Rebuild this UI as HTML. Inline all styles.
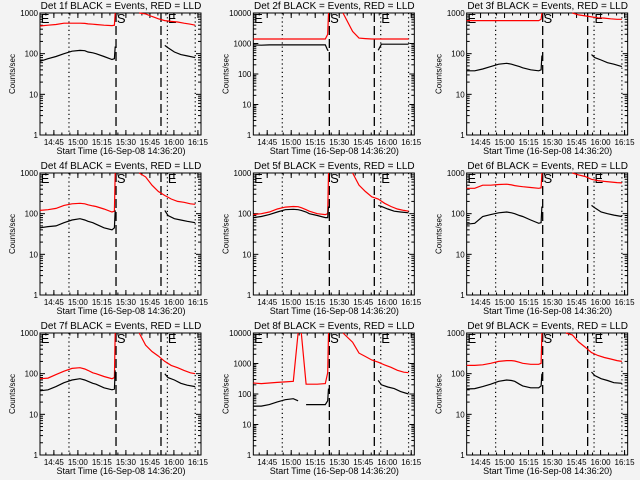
<!DOCTYPE html>
<html><head><meta charset="utf-8"><style>
html,body{margin:0;padding:0;background:#f3f3f3;}
svg{display:block;font-family:"Liberation Sans",sans-serif;}
</style></head><body>
<svg id="chart" width="640" height="480" viewBox="0 0 640 480">
<rect width="640" height="480" fill="#f3f3f3"/>
</svg>
<script>
// time samples in minutes from 14:36:20
const timesA = [0,5,10,15,20,25,28,30,33,35,40,45,46.5,47];
const timesBlackB = [78,80,84,88,92,97];
const timesRedB = [48,56,62,66,70,74,78,82,86,90,94,97];
const detectorNames = ["1f","2f","3f","4f","5f","6f","7f","8f","9f"];
const axisMax = [1000,10000,1000,1000,1000,1000,1000,10000,1000];
const blackA = [
 [65,75,85,100,115,120,118,110,105,100,85,72,75,150],
 [900,880,900,900,900,900,900,900,900,900,900,900,600,600],
 [38,38,42,48,55,58,55,52,48,45,40,38,40,90],
 [45,48,50,60,70,75,70,65,60,55,45,40,45,120],
 [80,85,95,110,125,128,125,120,110,100,90,80,80,150],
 [55,58,85,95,105,110,105,100,90,85,70,58,60,150],
 [38,40,48,60,70,75,70,65,58,55,45,40,42,120],
 [40,40,45,55,65,70,60,null,45,45,45,45,60,150],
 [42,43,48,55,65,70,68,65,55,50,45,45,50,100]
];
const redA = [
 [480,500,520,560,560,560,555,540,530,520,500,490,500,5000],
 [1400,1400,1400,1400,1400,1400,1400,1400,1400,1400,1400,1400,2000,50000],
 [650,650,650,650,650,650,650,650,650,650,650,650,700,2000],
 [120,125,135,160,175,180,175,165,155,150,130,110,115,3000],
 [95,100,110,130,145,150,148,140,125,115,100,95,100,3000],
 [420,420,500,500,520,530,510,490,470,460,440,420,430,3000],
 [75,78,95,115,135,140,130,120,105,100,85,75,80,3000],
 [230,220,230,240,250,260,30000,30000,210,210,210,220,500,30000],
 [160,160,165,180,200,210,210,205,190,180,170,170,180,3000]
];
const blackB = [
 [160,140,110,95,88,80],
 [600,950,950,950,950,950],
 [95,80,70,60,55,48],
 [120,90,75,70,65,60],
 [160,150,130,115,110,105],
 [160,140,110,100,92,85],
 [100,80,70,58,52,48],
 [280,200,170,150,120,100],
 [110,90,75,68,60,58]
];
const redB = [
 [5000,5000,5000,950,820,720,650,620,600,560,530,500],
 [12000,20000,2500,1500,1450,1400,1400,1400,1400,1400,1400,1400],
 [5000,5000,5000,1100,900,850,800,760,750,720,700,700],
 [5000,5000,3000,800,500,350,280,230,200,190,175,170],
 [5000,5000,3000,500,350,260,230,180,150,130,120,115],
 [5000,5000,5000,1100,900,820,700,650,620,600,580,570],
 [5000,5000,3000,500,350,270,200,160,140,120,105,100],
 [30000,30000,5000,2200,1700,1300,1100,900,750,600,520,500],
 [5000,5000,3000,900,600,450,330,280,250,230,210,200]
];
const tickLabels = ["14:45","15:00","15:15","15:30","15:45","16:00","16:15"];
const tickTimes = [8.67,23.67,38.67,53.67,68.67,83.67,98.67];
const dottedTimes = [18.1,79.6,97.0];
const dashedTimes = [47.5,75.6];
const T_MAX = 100.6;

const NS = "http://www.w3.org/2000/svg";
const svg = document.getElementById('chart');
function mk(tag, attrs, parent){
  const e = document.createElementNS(NS, tag);
  for (const k in attrs) e.setAttribute(k, attrs[k]);
  (parent||svg).appendChild(e);
  return e;
}

for (let p = 0; p < 9; p++) {
  const col = p % 3, row = Math.floor(p / 3);
  const ox = col * 213.33, oy = row * 160;
  const x0 = ox + 40, x1 = ox + 201, y0 = oy + 13, y1 = oy + 135;
  const g = mk('g', {});
  
  
  const decades = Math.log10(axisMax[p]);
  const xS = t => x0 + (t / T_MAX) * (x1 - x0);
  const yS = v => y1 - (Math.log10(v) / decades) * (y1 - y0);

  const title = mk('text', {x: ox + 121, y: oy + 9, 'text-anchor': 'middle', 'font-size': 10, fill: '#000'}, g);
  title.textContent = 'Det ' + detectorNames[p] + ' BLACK = Events, RED = LLD';
  
  

  const frame = mk('rect', {x: x0, y: y0, width: x1 - x0, height: y1 - y0, fill: 'none', stroke: '#000', 'stroke-width': 1}, g);
  
  

  for (let d = 0; d <= decades; d++) {
    const v = Math.pow(10, d), y = yS(v);
    mk('line', {x1: x0, x2: x0 + 5, y1: y, y2: y, stroke: '#000'}, g);
    mk('line', {x1: x1, x2: x1 - 5, y1: y, y2: y, stroke: '#000'}, g);
    const lb = mk('text', {x: x0 - 2, y: y + 3, 'text-anchor': 'end', 'font-size': 8, fill: '#000'}, g);
    lb.textContent = String(v);
    
    
    if (d < decades) for (let m = 2; m < 10; m++) {
      const ym = yS(v * m);
      mk('line', {x1: x0, x2: x0 + 3, y1: ym, y2: ym, stroke: '#000'}, g);
      mk('line', {x1: x1, x2: x1 - 3, y1: ym, y2: ym, stroke: '#000'}, g);
    }
  }
  tickTimes.forEach((t, i) => {
    const x = xS(t);
    mk('line', {x1: x, x2: x, y1: y1, y2: y1 - 5, stroke: '#000'}, g);
    mk('line', {x1: x, x2: x, y1: y0, y2: y0 + 5, stroke: '#000'}, g);
    const lb = mk('text', {x: x, y: oy + 145, 'text-anchor': 'middle', 'font-size': 8, fill: '#000'}, g);
    lb.textContent = tickLabels[i];
    
    
  });
  for (let t = 3.67; t < T_MAX; t += 5) {
    const x = xS(t);
    mk('line', {x1: x, x2: x, y1: y1, y2: y1 - 2.5, stroke: '#000'}, g);
    mk('line', {x1: x, x2: x, y1: y0, y2: y0 + 2.5, stroke: '#000'}, g);
  }
  const xt = mk('text', {x: ox + 121, y: oy + 154, 'text-anchor': 'middle', 'font-size': 9, fill: '#000'}, g);
  xt.textContent = 'Start Time (16-Sep-08 14:36:20)';
  
  
  const yt = mk('text', {x: 0, y: 0, 'text-anchor': 'middle', 'font-size': 8, fill: '#000', transform: 'translate(' + (ox + 15) + ',' + (oy + 74) + ') rotate(-90)'}, g);
  yt.textContent = 'Counts/sec';
  
  

  dottedTimes.forEach(t => {
    const l = mk('line', {x1: xS(t), x2: xS(t), y1: y0, y2: y1, stroke: '#000', 'stroke-width': 1.2, 'stroke-dasharray': '1.2,3'}, g);
    
    
  });
  dashedTimes.forEach(t => {
    const l = mk('line', {x1: xS(t), x2: xS(t), y1: y0, y2: y1, stroke: '#000', 'stroke-width': 1.3, 'stroke-dasharray': '9,4'}, g);
    
    
  });
  [[0.5, 'E'], [dashedTimes[0] + 0.5, 'S'], [dottedTimes[1] + 0.3, 'E']].forEach(([t, s]) => {
    const e = mk('text', {x: xS(t), y: y0 + 10, 'font-size': 13, fill: '#000'}, g);
    e.textContent = s;
    
    
  });

  function series(ts, vs, color, name) {
    let d = '', pen = false;
    const top = axisMax[p];
    for (let i = 0; i < ts.length; i++) {
      const v = vs[i];
      if (v === null) { pen = false; continue; }
      const clipped = v > top;
      const prevClipped = i > 0 && vs[i - 1] !== null && vs[i - 1] > top;
      if (clipped && (prevClipped || !pen)) {
        d += ' M' + xS(ts[i]).toFixed(1) + ',' + yS(top).toFixed(1); pen = true; continue; }
      const y = yS(Math.min(v, top));
      d += (pen ? ' L' : ' M') + xS(ts[i]).toFixed(1) + ',' + y.toFixed(1);
      pen = true;
    }
    const path = mk('path', {d: d.trim(), fill: 'none', stroke: color, 'stroke-width': 1.2}, g);
    
    
  }
  series(timesA, redA[p], '#ff0000', 'lld-series-pre');
  series(timesRedB, redB[p], '#ff0000', 'lld-series-post');
  series(timesA, blackA[p], '#000000', 'events-series-pre');
  series(timesBlackB, blackB[p], '#000000', 'events-series-post');
}
</script>
</body></html>
